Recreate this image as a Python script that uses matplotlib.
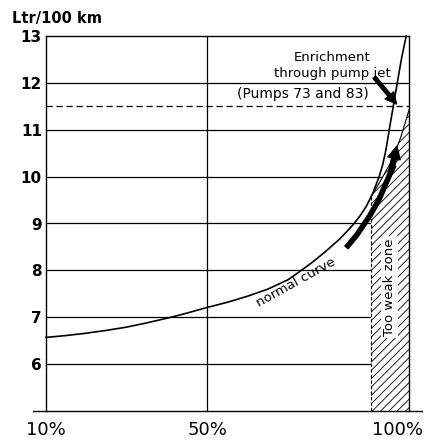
import numpy as np
import matplotlib
matplotlib.use('Agg')
import matplotlib.pyplot as plt
from matplotlib.transforms import ScaledTranslation

plt.rcParams['font.family'] = ['DejaVu Sans']
plt.rcParams['hatch.linewidth'] = 0.6

# main consumption curve (throttle opening % -> Ltr/100 km)
curve_x = [10, 15, 20, 25, 30, 35, 41, 45, 50, 55, 60, 65, 70, 73.3, 76, 79,
           82.7, 84.5, 86.4, 88, 89.5, 91, 92.6, 93.5, 94.3, 95.1, 96.1, 97.1, 98.1, 99.3]
curve_y = [6.57, 6.61, 6.66, 6.72, 6.79, 6.88, 7.0, 7.09, 7.21, 7.32, 7.45, 7.6, 7.8, 8.0, 8.17, 8.38,
           8.66, 8.82, 9.0, 9.18, 9.38, 9.64, 10.0, 10.26, 10.58, 11.0, 11.5, 12.0, 12.5, 13.0]

# lean limit line bounding the "too weak" zone
weak_x = [90.6, 93, 95.8, 98, 100]
weak_y = [9.57, 9.92, 10.35, 10.85, 11.42]
weak_start = 90.6

pump_level = 11.5  # dashed line, pumps 73 and 83

# thick curved arrow (shaft points, then tip)
big_arrow_x = [84.4, 87, 90.1, 92.5, 94.3, 95.5, 96.3]
big_arrow_y = [8.48, 8.75, 9.14, 9.5, 9.86, 10.1, 10.25]
big_arrow_tip = (97.0, 10.65)

enrich_from = (91.4, 12.12)
enrich_to = (96.9, 11.55)

x_ticks = [10, 50, 100]
x_labels = ['10%', '50%', '100%']
y_ticks = [6, 7, 8, 9, 10, 11, 12, 13]

fig = plt.figure(figsize=(4.27, 4.44), dpi=100)
ax = fig.add_axes([46 / 427, 33 / 444, 363 / 427, 375 / 444])
ax.set_xlim(10, 100)
ax.set_ylim(5, 13)

# grid
for y in y_ticks[:-1]:
    ax.axhline(y, color='black', lw=0.9, zorder=1)
ax.axvline(50, color='black', lw=0.9, zorder=1)
ax.axhline(pump_level, color='black', lw=0.9, ls=(0, (5, 3)), zorder=1)

# too weak zone
wx = np.linspace(weak_start, 100, 50)
wy = np.interp(wx, weak_x, weak_y)
ax.fill_between(wx, 5, wy, facecolor='white', edgecolor='black', hatch='////', lw=0, zorder=2)
ax.plot(weak_x, weak_y, color='black', lw=0.8, zorder=3)
ax.plot([weak_start, weak_start], [5, weak_y[0]], color='black', lw=0.8, ls=(0, (3, 2)), zorder=3)

ax.plot(curve_x, curve_y, color='black', lw=1.2, zorder=4, clip_on=False)

# thick arrow
ax.plot(big_arrow_x, big_arrow_y, color='black', lw=4, solid_capstyle='butt', zorder=5)
ax.annotate('', xy=big_arrow_tip, xytext=(big_arrow_x[-2], big_arrow_y[-2]),
            arrowprops=dict(facecolor='black', edgecolor='black', width=3.5,
                            headwidth=9, headlength=9, shrink=0), zorder=5)
ax.annotate('', xy=enrich_to, xytext=enrich_from,
            arrowprops=dict(facecolor='black', edgecolor='black', width=2.5,
                            headwidth=8, headlength=8, shrink=0), zorder=5)

# text
ax.text(81.0, 12.55, 'Enrichment', ha='center', va='center', fontsize=9.5, zorder=6)
ax.text(81.0, 12.21, 'through pump jet', ha='center', va='center', fontsize=9.5, zorder=6)
ax.text(73.8, 11.76, '(Pumps 73 and 83)', ha='center', va='center', fontsize=10, zorder=6)
ax.text(72.0, 7.74, 'normal curve', ha='center', va='center', fontsize=9.5,
        rotation=29, rotation_mode='anchor', zorder=6)
ax.text(95.2, 7.65, 'Too weak zone', ha='center', va='center', fontsize=9.5,
        rotation=90, zorder=6,
        bbox=dict(facecolor='white', edgecolor='none', pad=1.5))

# frame
for s in ['left', 'top', 'right']:
    ax.spines[s].set_linewidth(1.0)
ax.spines['bottom'].set_visible(False)
ax.plot([6.8, 103.3], [5, 5], color='black', lw=1.0, clip_on=False, zorder=6)

ax.set_xticks(x_ticks)
ax.set_xticklabels(x_labels, fontsize=13)
ax.set_yticks(y_ticks)
ax.set_yticklabels([str(v) for v in y_ticks], fontsize=11, fontweight='bold')
ax.tick_params(axis='x', length=0, pad=7)
ax.tick_params(axis='y', length=0, pad=3)
last = ax.get_xticklabels()[-1]
last.set_transform(last.get_transform() + ScaledTranslation(-0.11, 0, fig.dpi_scale_trans))

fig.text(12 / 427, 1 - 18 / 444, 'Ltr/100 km', ha='left', va='center',
         fontsize=10.5, fontweight='bold')

fig.savefig('out.png', dpi=100)
